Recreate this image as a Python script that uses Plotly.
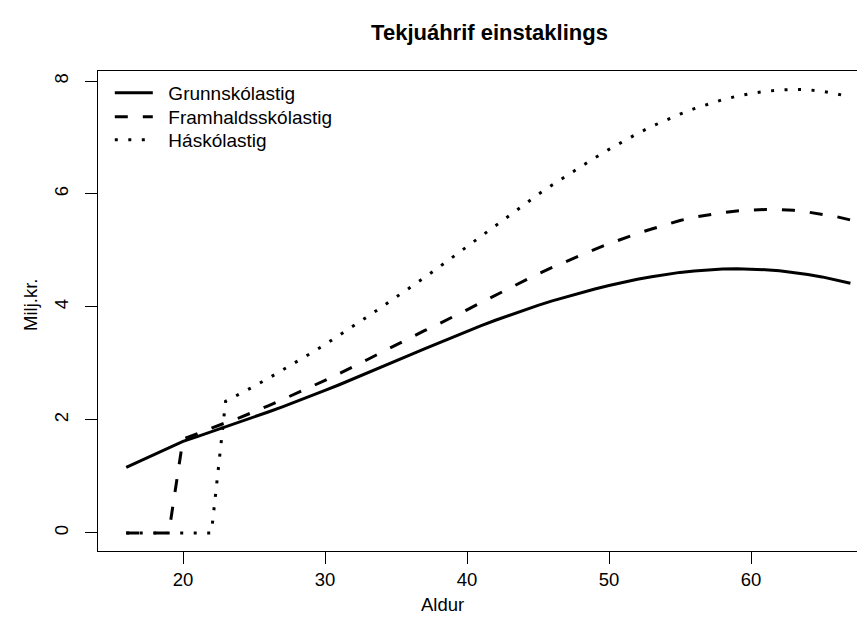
import plotly.graph_objects as go

ages = list(range(16, 68))

grunn = [1.16, 1.275, 1.39, 1.505, 1.62, 1.705, 1.79, 1.875, 1.962, 2.05,
         2.14, 2.232, 2.326, 2.423, 2.522, 2.623, 2.726, 2.831, 2.937, 3.044,
         3.151, 3.258, 3.364, 3.468, 3.57, 3.669, 3.765, 3.857, 3.945, 4.029,
         4.108, 4.182, 4.252, 4.318, 4.38, 4.437, 4.489, 4.536, 4.577, 4.612,
         4.638, 4.659, 4.672, 4.676, 4.672, 4.66, 4.64, 4.612, 4.576, 4.532,
         4.48, 4.42]

framh = [0, 0, 0, 0, 1.66, 1.76, 1.86, 1.95, 2.04, 2.14,
         2.25, 2.36, 2.47, 2.58, 2.70, 2.82, 2.94, 3.07, 3.20, 3.33,
         3.45, 3.58, 3.70, 3.82, 3.95, 4.08, 4.21, 4.34, 4.465, 4.585,
         4.70, 4.81, 4.915, 5.02, 5.12, 5.215, 5.30, 5.38, 5.46, 5.53,
         5.59, 5.635, 5.67, 5.70, 5.715, 5.725, 5.725, 5.71, 5.68, 5.645,
         5.60, 5.54]

haskoli = [0, 0, 0, 0, 0, 0, 0, 2.33, 2.46, 2.595,
           2.735, 2.88, 3.03, 3.18, 3.335, 3.495, 3.66, 3.83, 4.00, 4.17,
           4.345, 4.52, 4.70, 4.885, 5.07, 5.26, 5.45, 5.635, 5.815, 5.99,
           6.16, 6.325, 6.485, 6.64, 6.79, 6.935, 7.07, 7.195, 7.31, 7.415,
           7.51, 7.595, 7.67, 7.73, 7.78, 7.815, 7.84, 7.85, 7.845, 7.82,
           7.775, 7.715]

series_names = ["Grunnskólastig", "Framhaldsskólastig", "Háskólastig"]
x_ticks = [20, 30, 40, 50, 60]
y_ticks = [0, 2, 4, 6, 8]

FONT = "Liberation Sans, Arial, Helvetica, sans-serif"
W, H = 865, 639
ML, MR, MT, MB = 90, 0, 63, 96
PW, PH = W - ML - MR, H - MT - MB

def px_x(p):
    return (p - ML) / PW

def px_y(p):
    return (H - MB - p) / PH

fig = go.Figure()
dashes = ["solid", "13px,15px", "3px,10.5px"]
legend_ids = ["legend", "legend2", "legend3"]
for name, vals, dash, lg in zip(series_names, [grunn, framh, haskoli], dashes, legend_ids):
    fig.add_trace(go.Scatter(x=ages, y=vals, mode="lines", name="\u00a0\u00a0" + name,
                             legend=lg,
                             line=dict(color="black", width=3, dash=dash)))

leg_rows = [85, 109, 132]
legend_common = dict(xanchor="left", yanchor="middle", bgcolor="rgba(0,0,0,0)",
                     borderwidth=0, font=dict(size=19, family=FONT), itemwidth=38)

fig.update_layout(
    width=W, height=H,
    margin=dict(l=ML, r=MR, t=MT, b=MB, pad=0),
    paper_bgcolor="white", plot_bgcolor="white",
    font=dict(family=FONT, size=18.5, color="black"),
    title=dict(text="<b>Tekjuáhrif einstaklings</b>", x=481.5 / W, xanchor="center",
               y=1 - 24 / H, yanchor="middle", font=dict(size=22, family=FONT)),
    showlegend=True,
    legend=dict(x=px_x(101.8), y=px_y(leg_rows[0]), **legend_common),
    legend2=dict(x=px_x(101.8), y=px_y(leg_rows[1]), **legend_common),
    legend3=dict(x=px_x(101.8), y=px_y(leg_rows[2]), **legend_common),
    xaxis=dict(range=[14.014, 68.59], tickvals=x_ticks, ticks="outside", ticklen=12,
               tickwidth=1, tickcolor="black", showline=True, linecolor="black",
               linewidth=1, mirror=True, showgrid=False, zeroline=False,
               tickfont=dict(size=18.5)),
    yaxis=dict(range=[-0.32, 8.177], tickvals=y_ticks, ticks="outside", ticklen=12,
               tickwidth=1, tickcolor="black", showline=True, linecolor="black",
               linewidth=1, mirror=False, showgrid=False, zeroline=False,
               tickangle=-90, ticklabelstandoff=10, tickfont=dict(size=18.5)),
    annotations=[
        dict(text="Aldur", xref="paper", yref="paper", x=px_x(434), y=px_y(596),
             xanchor="center", yanchor="middle", showarrow=False, font=dict(size=18.5)),
        dict(text="Milj.kr.", xref="paper", yref="paper", x=px_x(22), y=px_y(297),
             xanchor="center", yanchor="middle", showarrow=False, textangle=-90,
             font=dict(size=18.5)),
    ],
)

fig.write_html("out.html")
